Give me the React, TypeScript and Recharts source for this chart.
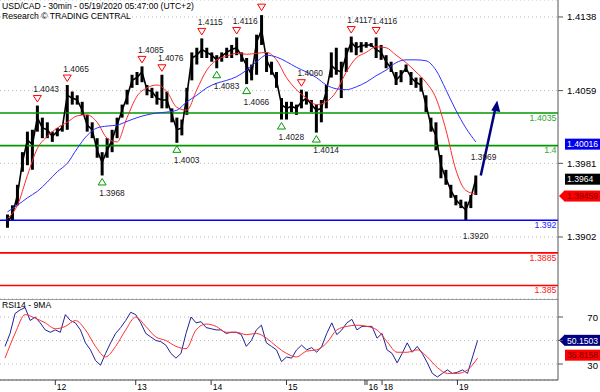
import { ComposedChart, Bar, Line, XAxis, YAxis, CartesianGrid, ReferenceLine, ReferenceDot } from 'recharts'

const FONT = '"Liberation Sans", Arial, sans-serif'
const SLOTS = 112 // 30-min bars, sampled, plus empty space on the right

// price bars (one sample every few 30-min bars)
const closes = [
  1.3918, 1.3926, 1.3947, 1.3982, 1.4006, 1.4001, 1.4030, 1.4019, 1.4017, 1.4010,
  1.4015, 1.4019, 1.4054, 1.4051, 1.4049, 1.4038, 1.4022, 1.4017, 1.3995, 1.3982,
  1.3995, 1.4006, 1.4022, 1.4038, 1.4052, 1.4070, 1.4073, 1.4079, 1.4060, 1.4058,
  1.4051, 1.4049, 1.4049, 1.4033, 1.4017, 1.4019, 1.4054, 1.4094, 1.4097, 1.4103,
  1.4100, 1.4097, 1.4092, 1.4096, 1.4100, 1.4103, 1.4105, 1.4096, 1.4086, 1.4076,
  1.4111, 1.4124, 1.4092, 1.4081, 1.4070, 1.4044, 1.4040, 1.4042, 1.4040, 1.4047,
  1.4051, 1.4044, 1.4038, 1.4040, 1.4058, 1.4086, 1.4081, 1.4079, 1.4097, 1.4111,
  1.4105, 1.4107, 1.4108, 1.4108, 1.4103, 1.4100, 1.4090, 1.4083, 1.4070, 1.4076,
  1.4083, 1.4073, 1.4068, 1.4065, 1.4044, 1.4022, 1.4011, 1.3979, 1.3965, 1.3952,
  1.3942, 1.3936, 1.3931, 1.3944, 1.3964,
]
const highs = [
  1.3926, 1.3936, 1.3958, 1.3993, 1.4015, 1.4017, 1.4043, 1.4030, 1.4025, 1.4015,
  1.4019, 1.4022, 1.4065, 1.4058, 1.4054, 1.4047, 1.4033, 1.4025, 1.4008, 1.3993,
  1.4008, 1.4017, 1.4030, 1.4044, 1.4060, 1.4076, 1.4079, 1.4085, 1.4065, 1.4062,
  1.4058, 1.4076, 1.4058, 1.4040, 1.4030, 1.4028, 1.4062, 1.4100, 1.4105, 1.4115,
  1.4105, 1.4100, 1.4097, 1.4100, 1.4105, 1.4108, 1.4116, 1.4100, 1.4094, 1.4087,
  1.4119, 1.4140, 1.4100, 1.4090, 1.4079, 1.4051, 1.4047, 1.4047, 1.4044, 1.4060,
  1.4058, 1.4049, 1.4044, 1.4049, 1.4065, 1.4100, 1.4105, 1.4090, 1.4105, 1.4117,
  1.4111, 1.4111, 1.4111, 1.4110, 1.4116, 1.4108, 1.4097, 1.4090, 1.4079, 1.4081,
  1.4087, 1.4079, 1.4073, 1.4073, 1.4054, 1.4030, 1.4025, 1.3990, 1.3974, 1.3958,
  1.3947, 1.3942, 1.3940, 1.3947, 1.3968,
]
const lows = [
  1.3912, 1.3920, 1.3936, 1.3972, 1.3979, 1.3974, 1.4015, 1.4008, 1.4008, 1.4004,
  1.4010, 1.4015, 1.4017, 1.4044, 1.4044, 1.4033, 1.4015, 1.4008, 1.3987, 1.3968,
  1.3987, 1.3993, 1.4008, 1.4030, 1.4044, 1.4062, 1.4065, 1.4068, 1.4054, 1.4051,
  1.4044, 1.4040, 1.4040, 1.4025, 1.4003, 1.4011, 1.4033, 1.4070, 1.4087, 1.4094,
  1.4094, 1.4090, 1.4083, 1.4090, 1.4094, 1.4094, 1.4097, 1.4090, 1.4066, 1.4070,
  1.4076, 1.4108, 1.4079, 1.4076, 1.4062, 1.4028, 1.4028, 1.4036, 1.4033, 1.4040,
  1.4044, 1.4036, 1.4014, 1.4025, 1.4040, 1.4073, 1.4076, 1.4051, 1.4079, 1.4100,
  1.4097, 1.4100, 1.4105, 1.4106, 1.4094, 1.4092, 1.4083, 1.4079, 1.4065, 1.4068,
  1.4079, 1.4065, 1.4062, 1.4058, 1.4036, 1.4015, 1.3995, 1.3965, 1.3958, 1.3944,
  1.3936, 1.3933, 1.3920, 1.3933, 1.3947,
]
// moving averages, read every other sample
const redMa = [
  1.3922, 1.3936, 1.3968, 1.3997, 1.4010, 1.4019, 1.4025, 1.4032, 1.4033, 1.4025,
  1.4008, 1.4004, 1.4030, 1.4053, 1.4062, 1.4065, 1.4058, 1.4041, 1.4038, 1.4060,
  1.4081, 1.4092, 1.4096, 1.4099, 1.4098, 1.4099, 1.4100, 1.4092, 1.4073, 1.4060,
  1.4051, 1.4044, 1.4047, 1.4058, 1.4079, 1.4094, 1.4100, 1.4106, 1.4105, 1.4097,
  1.4089, 1.4079, 1.4068, 1.4051, 1.4017, 1.3974, 1.3952, 1.3948,
]
const blueMa = [
  1.3929, 1.3936, 1.3944, 1.3951, 1.3961, 1.3972, 1.3981, 1.3997, 1.4011, 1.4019,
  1.4021, 1.4022, 1.4026, 1.4030, 1.4033, 1.4035, 1.4036, 1.4038, 1.4047, 1.4054,
  1.4062, 1.4067, 1.4070, 1.4074, 1.4081, 1.4090, 1.4097, 1.4095, 1.4090, 1.4084,
  1.4079, 1.4073, 1.4065, 1.4061, 1.4060, 1.4063, 1.4068, 1.4075, 1.4081, 1.4089,
  1.4092, 1.4092, 1.4091, 1.4081, 1.4060, 1.4038, 1.4019, 1.4004,
]
const rsi = [
  45, 56, 73, 76, 78, 67, 70, 65, 59, 57,
  59, 57, 72, 67, 65, 59, 48, 42, 33, 29,
  39, 48, 56, 61, 67, 74, 72, 65, 56, 53,
  50, 49, 46, 39, 35, 39, 56, 70, 65, 66,
  61, 60, 59, 59, 56, 57, 57, 55, 45, 50,
  59, 63, 48, 45, 42, 32, 36, 35, 42, 46,
  42, 44, 40, 45, 56, 65, 55, 59, 65, 68,
  59, 62, 62, 62, 52, 56, 42, 39, 31, 39,
  48, 40, 45, 39, 31, 22, 19, 22, 25, 22,
  23, 25, 22, 36, 50,
]
const rsiMa = [
  35, 56, 72, 69, 65, 60, 62, 67, 59, 45,
  36, 45, 59, 70, 62, 53, 50, 45, 43, 59,
  64, 62, 57, 57, 55, 56, 52, 45, 39, 36,
  41, 42, 48, 59, 62, 63, 62, 59, 49, 40,
  40, 42, 36, 27, 22, 22, 25, 35,
]

const priceTicks = [1.4138, 1.4059, 1.3981, 1.3902]
const levels = [
  { p: 1.4035, color: '#009900', text: '#2fa82f' },
  { p: 1.4, color: '#009900', text: '#2fa82f' },
  { p: 1.392, color: '#0000ff', text: '#2222ff' },
  { p: 1.3885, color: '#ff0000', text: '#ff2020' },
  { p: 1.385, color: '#ff0000', text: '#ff2020' },
]
const highMarks = [
  { i: 7, p: 1.4043, label: '1.4043' },
  { i: 13, p: 1.4065, label: '1.4065' },
  { i: 28, p: 1.4085, label: '1.4085' },
  { i: 32, p: 1.4076, label: '1.4076' },
  { i: 40, p: 1.4115, label: '1.4115' },
  { i: 47, p: 1.4116, label: '1.4116' },
  { i: 52, p: 1.4141, label: '' },
  { i: 60, p: 1.4060, label: '1.4060' },
  { i: 70, p: 1.4117, label: '1.4117' },
  { i: 75, p: 1.4116, label: '1.4116' },
]
const lowMarks = [
  { i: 20, p: 1.3968, label: '1.3968', tri: true },
  { i: 35, p: 1.4003, label: '1.4003', tri: true },
  { i: 43, p: 1.4083, label: '1.4083', tri: true },
  { i: 49, p: 1.4066, label: '1.4066', tri: true },
  { i: 56, p: 1.4028, label: '1.4028', tri: true },
  { i: 63, p: 1.4014, label: '1.4014', tri: true },
  { i: 93, p: 1.3920, label: '1.3920', tri: false },
]
const targetLabel = { i: 95, p: 1.3969, label: '1.3969' }
const arrowPath = [{ i: 96, p: 1.3968 }, { i: 99, p: 1.4042 }]
const priceBoxes = [
  { v: 1.40016, text: '1.40016', bg: '#0000ee', fg: '#fff', arrow: false },
  { v: 1.3964, text: '1.3964', bg: '#000', fg: '#fff', arrow: false },
  { v: 1.39459, text: '1.39459', bg: '#ff0000', fg: '#7a0000', arrow: true },
]
const rsiBoxes = [
  { v: 50.1503, text: '50.1503', bg: '#000080', fg: '#fff', arrow: true, lift: 0 },
  { v: 35.8158, text: '35.8158', bg: '#ff0000', fg: '#7a0000', arrow: false, lift: 2 },
]
const dayTicks = [
  { i: 11, label: '12' }, { i: 27, label: '13' }, { i: 42, label: '14' }, { i: 57, label: '15' },
  { i: 73, label: '16' }, { i: 76, label: '18' }, { i: 91, label: '19' },
]

const rows = Array.from({ length: SLOTS }, (_, i) => {
  const r: any = { i }
  const k = i - 1
  if (k >= 0 && k < closes.length) {
    r.close = closes[k]
    r.hl = [lows[k], highs[k]]
    r.rsi = rsi[k]
    if (k % 2 === 0) {
      r.red = redMa[k / 2]
      r.blue = blueMa[k / 2]
      r.rsiMa = rsiMa[k / 2]
    }
  }
  return r
})
arrowPath.forEach(a => { rows[a.i].arrow = a.p })

const ValueBox = ({ viewBox, text, bg, fg, arrow, lift = 0 }: any) => {
  const x0 = viewBox.x + viewBox.width
  const y = viewBox.y - lift
  return (
    <g>
      {arrow && <polygon points={`${x0 + 1},${y} ${x0 + 7},${y - 6} ${x0 + 7},${y + 6}`} fill={bg} />}
      <rect x={x0 + 7} y={y - 5.5} width={35} height={11} fill={bg} />
      <text x={x0 + 9} y={y + 3.2} fontSize={8.6} fill={fg} fontFamily={FONT}>{text}</text>
    </g>
  )
}

const HighMark = ({ cx, cy, label }: any) => (
  <g>
    <polygon points={`${cx - 4},${cy - 10} ${cx + 4},${cy - 10} ${cx},${cy - 3.5}`} fill="#fff" stroke="#ff0000" strokeWidth={1} />
    <text x={cx - 4} y={cy - 13.5} fontSize={8.4} fill="#222" fontFamily={FONT}>{label}</text>
  </g>
)

const LowMark = ({ cx, cy, label, tri }: any) => (
  <g>
    {tri && <polygon points={`${cx},${cy + 3} ${cx - 4},${cy + 9.5} ${cx + 4},${cy + 9.5}`} fill="#fff" stroke="#009900" strokeWidth={1} />}
    <text x={cx - 3} y={cy + (tri ? 20.5 : 19)} fontSize={8.4} fill="#222" fontFamily={FONT}>{label}</text>
  </g>
)

const ArrowHead = (props: any) => {
  const { cx, cy, payload, value } = props
  if (value == null || payload.i !== arrowPath[arrowPath.length - 1].i) return <g key={`a${props.index}`} />
  return <polygon key="head" points={`${cx + 1.5},${cy - 6} ${cx - 4.5},${cy + 4} ${cx + 4.5},${cy + 5.5}`} fill="#000080" />
}

const DayTick = ({ x, y, payload }: any) => {
  const d = dayTicks.find(t => t.i === payload.value)
  return (
    <g>
      <line x1={x} y1={y} x2={x} y2={y + 5} stroke="#333" />
      {d?.label === '16' && <line x1={x - 2} y1={y} x2={x - 2} y2={y + 5} stroke="#333" />}
      <text x={x + 1.5} y={y + 10} fontSize={8.6} fill="#000" fontFamily={FONT}>{d?.label}</text>
    </g>
  )
}

const RsiTick = ({ y, payload }: any) =>
  payload.value === 50 ? <g /> : (
    <text x={598} y={y + 4.5} textAnchor="end" fontSize={9.6} fill="#000" fontFamily={FONT}>{payload.value}</text>
  )

export default function App() {
  return (
    <div style={{ position: 'absolute', left: 0, top: 0, width: 600, height: 392, background: '#fff', fontFamily: FONT }}>
      <ComposedChart width={600} height={299} data={rows} margin={{ top: 0, right: 0, bottom: 0, left: 0 }}>
        <CartesianGrid vertical={false} stroke="#bbb" strokeDasharray="1 3" />
        <XAxis dataKey="i" hide />
        <YAxis orientation="right" width={42} domain={[1.38355, 1.41562]} ticks={priceTicks} allowDataOverflow
          tickFormatter={(v: number) => v.toFixed(4)} tick={{ fontSize: 9.6, fill: '#000', fontFamily: FONT }}
          tickSize={5} tickMargin={4} axisLine={{ stroke: '#555' }} tickLine={{ stroke: '#555' }} />
        {levels.map(l => (
          <ReferenceLine key={l.p} y={l.p} stroke={l.color} strokeWidth={1.6}
            label={{ value: String(l.p), position: 'insideTopRight', offset: 1.5, fill: l.text, fontSize: 8.8, fontFamily: FONT }} />
        ))}
        <Bar dataKey="hl" barSize={3} fill="#000" isAnimationActive={false} />
        <Line dataKey="close" type="linear" stroke="#000" strokeWidth={1.6} dot={false} isAnimationActive={false} />
        <Line dataKey="red" type="monotone" stroke="#ff2a2a" strokeWidth={1} dot={false} connectNulls isAnimationActive={false} />
        <Line dataKey="blue" type="monotone" stroke="#3030ff" strokeWidth={1} dot={false} connectNulls isAnimationActive={false} />
        <Line dataKey="arrow" type="linear" stroke="#000080" strokeWidth={2.5} dot={ArrowHead} connectNulls isAnimationActive={false} />
        {highMarks.map(m => (
          <ReferenceDot key={`h${m.i}`} x={m.i} y={m.p} r={0} shape={(p: any) => <HighMark {...p} label={m.label} />} />
        ))}
        {lowMarks.map(m => (
          <ReferenceDot key={`l${m.i}`} x={m.i} y={m.p} r={0} shape={(p: any) => <LowMark {...p} label={m.label} tri={m.tri} />} />
        ))}
        <ReferenceDot x={targetLabel.i} y={targetLabel.p} r={0}
          shape={(p: any) => <text x={p.cx - 5} y={p.cy - 15} fontSize={8.4} fill="#222" fontFamily={FONT}>{targetLabel.label}</text>} />
        {priceBoxes.map(b => (
          <ReferenceLine key={b.text} y={b.v} stroke="none" label={<ValueBox text={b.text} bg={b.bg} fg={b.fg} arrow={b.arrow} />} />
        ))}
      </ComposedChart>
      <ComposedChart width={600} height={93} data={rows} margin={{ top: 0, right: 0, bottom: 0, left: 0 }}>
        <CartesianGrid vertical={false} stroke="#bbb" strokeDasharray="1 3" />
        <XAxis dataKey="i" ticks={dayTicks.map(d => d.i)} interval={0} height={12} tick={<DayTick />}
          tickLine={false} tickSize={0} tickMargin={0} axisLine={{ stroke: '#444' }} />
        <YAxis orientation="right" width={42} domain={[16.4, 85.3]} ticks={[30, 50, 70]} allowDataOverflow
          tick={<RsiTick />} tickSize={5} axisLine={{ stroke: '#555' }} tickLine={{ stroke: '#555' }} />
        <ReferenceLine y={85.3} stroke="#444" strokeWidth={1.2} />
        <Line dataKey="rsi" type="linear" stroke="#22229a" strokeWidth={1} dot={false} isAnimationActive={false} />
        <Line dataKey="rsiMa" type="monotone" stroke="#ff3030" strokeWidth={1} dot={false} connectNulls isAnimationActive={false} />
        {rsiBoxes.map(b => (
          <ReferenceLine key={b.text} y={b.v} stroke="none" label={<ValueBox text={b.text} bg={b.bg} fg={b.fg} arrow={b.arrow} lift={b.lift} />} />
        ))}
      </ComposedChart>
      <div style={{ position: 'absolute', left: 2, top: 1, fontSize: 8.6, lineHeight: '10px', color: '#000' }}>
        <div>USD/CAD - 30min - 05/19/2020 05:47:00 (UTC+2)</div>
        <div>Research © TRADING CENTRAL</div>
      </div>
      <div style={{ position: 'absolute', left: 2, top: 300, fontSize: 8.6, lineHeight: '10px', color: '#000' }}>RSI14 - 9MA</div>
    </div>
  )
}
